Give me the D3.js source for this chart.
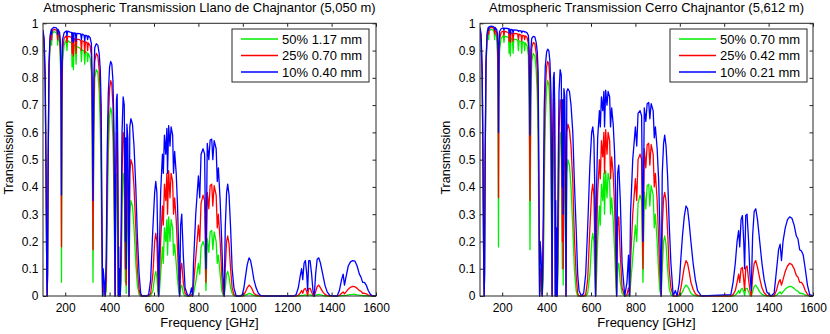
<!DOCTYPE html>
<html><head><meta charset="utf-8">
<script src="https://cdn.jsdelivr.net/npm/d3@7"></script>
<style>body{margin:0;background:#fff}svg text{font-family:"Liberation Sans",Arial,Helvetica,sans-serif;fill:#000}</style>
</head><body><svg id="c" width="830" height="334"></svg>
<script>
// Frequency grid [GHz]
const freq=[100,105,110,114,117,118.75,120.5,123,127,132,
137,139,141,150,160,164,166,168,175,179,
181.5,183.3,185,188,195,205,208,211,222,229,
231,234,237,240,246,249,252,265,270,273,
276,285,288,291,298,301,304,312,318,321.5,
325.2,329,333,340,347,353,358,362,365,368.5,
371,375,380.2,385,389,394,400,405,410,415,
420,424.8,427,431,434,437,439.2,441,443,445.5,
448,452,456,461,466,470.9,473,474.7,478,482,
485,487.5,491,496,503,510,518,525,533,540,
546,556.9,567,576,585,595,603,608,613,617,
620.7,624,630,638,642,647,653,658,661,666,
672,677,684,688,693,700,706,711,715.4,720,
725,732,740,752,762,769,773.8,778,788,800,
806,812,821,828,834.1,840,847,853,860,865,
871,880,885,890,898,905,910,916.2,921,927,
932,938,945,952,960,970.3,980,988,998,1005,
1012,1020,1028,1035,1042,1050,1060,1070,1080,1097,
1230,1240,1250,1258,1265,1270,1276,1282,1288,1292,
1297,1303,1310,1316,1322,1328,1335,1342,1350,1360,
1370,1380,1392,1411,1425,1435,1445,1452,1458,1465,
1475,1485,1495,1505,1515,1525,1532,1540,1548,1556,
1565,1575,1585,1600];

// Llano de Chajnantor (5,050 m)
const llanoG=[.95,.91,.75,.4,.08,0,.08,.45,.82,.93,
.955,.92,.962,.97,.965,.955,.92,.955,.93,.84,
.6,.05,.6,.86,.92,.94,.9,.937,.93,.928,
.84,.925,.83,.922,.918,.85,.915,.91,.905,.86,
.903,.898,.85,.896,.893,.86,.89,.875,.82,.6,
.05,.6,.8,.83,.82,.75,.62,.42,.15,0,
.02,0,0,.02,.25,.52,.66,.69,.67,.58,
.35,0,.2,.45,.45,.25,0,.03,0,.01,
0,.05,.32,.45,.42,.05,.3,.01,.35,.3,
.1,0,.3,.35,.33,.25,.12,.04,.005,0,
0,0,0,0,0,.02,.07,.09,.07,.02,
0,.01,.08,.18,.12,.25,.2,.28,.15,.29,
.2,.28,.25,.15,.19,.12,.06,.02,0,.03,
.04,.01,0,0,0,0,0,.01,.05,.12,
.08,.18,.2,.18,.02,.21,.16,.235,.24,.17,
.235,.2,.12,.15,.08,.02,.005,0,.03,.08,
.09,.07,.03,.01,0,0,0,0,0,0,
.003,.006,.01,.008,.005,.002,0,0,0,0,
0,0,0,.001,.002,.001,.003,.004,.002,0,
.004,.004,.002,0,0,.002,.005,.006,.004,.002,
0,0,0,0,0,0,.001,.002,.001,.002,
.004,.005,.006,.006,.004,.003,.002,.001,.001,.001,
0,0,0,0];
const llanoR=[.965,.93,.78,.42,.08,0,.08,.46,.84,.945,
.967,.94,.972,.978,.975,.968,.94,.968,.95,.88,
.7,.18,.7,.9,.945,.955,.93,.953,.95,.948,
.89,.947,.88,.945,.943,.89,.942,.94,.937,.9,
.936,.933,.89,.932,.93,.9,.928,.918,.88,.7,
.17,.7,.86,.89,.88,.83,.74,.57,.25,0,
.05,.02,0,.06,.38,.64,.76,.79,.775,.7,
.48,0,.3,.6,.6,.38,0,.08,0,.04,
0,.12,.45,.6,.56,.1,.45,.04,.5,.45,
.2,0,.45,.5,.48,.4,.25,.1,.02,0,
0,0,0,0,.01,.08,.2,.23,.2,.08,
0,.05,.2,.33,.26,.41,.35,.45,.3,.46,
.36,.45,.42,.3,.36,.28,.17,.07,0,.1,
.12,.05,.01,0,0,.005,0,.04,.14,.26,
.2,.34,.37,.35,.05,.38,.32,.405,.41,.33,
.405,.37,.25,.3,.2,.08,.02,0,.1,.2,
.22,.19,.1,.03,.005,0,0,0,0,.005,
.015,.03,.04,.035,.025,.01,.004,.001,0,0,
0,0,.003,.01,.02,.01,.025,.028,.015,.002,
.028,.028,.015,.003,0,.015,.035,.04,.03,.015,
.006,.002,0,0,0,.002,.01,.015,.008,.015,
.025,.032,.035,.034,.028,.02,.018,.01,.01,.008,
.003,.001,0,0];
const llanoB=[.975,.945,.8,.43,.08,0,.08,.47,.85,.955,
.977,.96,.981,.985,.983,.978,.96,.978,.965,.92,
.8,.37,.8,.94,.965,.972,.955,.971,.968,.967,
.935,.966,.93,.965,.964,.935,.963,.962,.96,.94,
.96,.957,.935,.956,.955,.94,.954,.948,.925,.8,
.35,.8,.91,.925,.92,.89,.83,.7,.35,0,
.1,.06,0,.15,.52,.74,.84,.86,.85,.79,
.6,0,.4,.72,.74,.52,0,.18,0,.1,
0,.25,.6,.73,.7,.2,.58,.1,.63,.58,
.3,0,.62,.65,.63,.55,.4,.22,.08,.01,
0,0,0,.005,.06,.25,.38,.42,.38,.2,
0,.15,.38,.52,.45,.59,.52,.615,.45,.625,
.55,.62,.59,.45,.53,.45,.33,.18,0,.26,
.3,.15,.03,0,.005,.03,0,.12,.3,.44,
.36,.52,.54,.52,.1,.56,.5,.572,.575,.5,
.57,.54,.42,.47,.35,.2,.08,0,.25,.38,
.41,.37,.25,.1,.03,0,0,0,.005,.03,
.07,.115,.14,.13,.1,.06,.03,.01,.002,0,
0,.005,.03,.07,.1,.06,.12,.13,.08,.02,
.13,.13,.08,.02,0,.08,.135,.14,.12,.08,
.04,.015,.002,0,0,.02,.06,.08,.04,.07,
.11,.125,.13,.128,.11,.08,.07,.05,.05,.04,
.02,.006,0,0];

// Cerro Chajnantor (5,612 m)
const cerroG=[.965,.93,.78,.42,.08,0,.08,.46,.84,.945,
.967,.94,.972,.978,.975,.968,.94,.968,.95,.88,
.7,.18,.7,.9,.945,.955,.93,.953,.95,.948,
.89,.947,.88,.945,.943,.89,.942,.94,.937,.9,
.936,.933,.89,.932,.93,.9,.928,.918,.88,.7,
.17,.7,.86,.89,.88,.83,.74,.57,.25,0,
.05,.02,0,.06,.38,.64,.76,.79,.775,.7,
.48,0,.3,.6,.6,.38,0,.08,0,.04,
0,.12,.45,.6,.56,.1,.45,.04,.5,.45,
.2,0,.45,.5,.48,.4,.25,.1,.02,0,
0,0,0,0,.01,.08,.2,.23,.2,.08,
0,.05,.2,.33,.26,.41,.35,.45,.3,.46,
.36,.45,.42,.3,.36,.28,.17,.07,0,.1,
.12,.05,.01,0,0,.005,0,.04,.14,.26,
.2,.34,.37,.35,.05,.38,.32,.405,.41,.33,
.405,.37,.25,.3,.2,.08,.02,0,.1,.2,
.22,.19,.1,.03,.005,0,0,0,0,.005,
.015,.03,.04,.035,.025,.01,.004,.001,0,0,
0,0,.003,.01,.02,.01,.025,.028,.015,.002,
.028,.028,.015,.003,0,.015,.035,.04,.03,.015,
.006,.002,0,0,0,.002,.01,.015,.008,.015,
.025,.032,.035,.034,.028,.02,.018,.01,.01,.008,
.003,.001,0,0];
const cerroR=[.975,.945,.8,.43,.08,0,.08,.47,.85,.955,
.977,.96,.981,.985,.983,.978,.96,.978,.965,.925,
.8,.36,.8,.94,.967,.972,.955,.971,.968,.967,
.935,.966,.93,.965,.964,.935,.963,.962,.96,.94,
.96,.957,.935,.956,.955,.94,.954,.948,.925,.8,
.35,.8,.91,.93,.925,.89,.83,.7,.35,0,
.1,.06,0,.15,.52,.75,.84,.86,.85,.79,
.6,0,.4,.72,.73,.52,0,.18,0,.1,
0,.25,.6,.72,.69,.2,.57,.1,.62,.58,
.3,0,.6,.63,.61,.55,.42,.22,.08,.01,
0,0,0,.005,.06,.25,.38,.41,.37,.2,
0,.15,.38,.5,.43,.57,.51,.6,.45,.61,
.52,.6,.57,.43,.51,.45,.33,.18,0,.26,
.29,.15,.03,0,.005,.03,0,.12,.3,.43,
.35,.5,.52,.5,.1,.54,.47,.555,.56,.48,
.555,.52,.4,.45,.35,.2,.08,0,.25,.36,
.38,.35,.24,.1,.03,0,0,0,.005,.03,
.065,.105,.13,.12,.09,.05,.025,.008,.002,0,
0,.005,.02,.05,.08,.05,.1,.105,.06,.02,
.105,.11,.06,.02,0,.07,.12,.13,.105,.065,
.03,.012,.002,0,0,.02,.05,.06,.04,.06,
.09,.11,.12,.115,.1,.075,.07,.05,.05,.04,
.02,.006,0,0];
const cerroB=[.985,.96,.82,.45,.09,0,.09,.48,.86,.965,
.985,.975,.987,.99,.988,.985,.975,.985,.978,.96,
.9,.6,.9,.97,.98,.983,.975,.982,.981,.98,
.965,.979,.96,.978,.977,.965,.976,.975,.974,.97,
.973,.972,.965,.971,.97,.968,.969,.965,.955,.9,
.59,.9,.945,.952,.95,.93,.895,.82,.5,0,
.2,.15,0,.3,.68,.84,.895,.905,.9,.86,
.74,0,.55,.8,.82,.68,0,.35,0,.25,
0,.45,.75,.83,.81,.4,.72,.3,.76,.73,
.45,0,.75,.76,.75,.7,.6,.42,.25,.08,
.02,0,.01,.08,.25,.48,.6,.62,.58,.4,
0,.35,.58,.68,.62,.73,.68,.75,.62,.755,
.7,.75,.73,.62,.69,.63,.53,.38,0,.45,
.48,.35,.12,0,.05,.15,0,.3,.5,.62,
.55,.67,.68,.66,.2,.69,.64,.705,.71,.65,
.705,.68,.58,.62,.54,.42,.25,0,.45,.56,
.59,.55,.44,.27,.12,0,.02,0,.05,.14,
.22,.29,.33,.32,.27,.2,.12,.06,.02,0,
.005,.05,.12,.2,.24,.18,.28,.295,.2,.1,
.295,.3,.2,.08,.02,.22,.31,.32,.28,.2,
.12,.06,.015,0,.01,.09,.17,.19,.13,.2,
.25,.28,.29,.285,.26,.22,.21,.17,.165,.15,
.1,.04,.005,0];

const xTicks=[200,400,600,800,1000,1200,1400,1600];
const yTicks=[0,0.1,0.2,0.3,0.4,0.5,0.6,0.7,0.8,0.9,1];
const llanoLegend=["50% 1.17 mm","25% 0.70 mm","10% 0.40 mm"];
const cerroLegend=["50% 0.70 mm","25% 0.42 mm","10% 0.21 mm"];
const titles=["Atmospheric Transmission Llano de Chajnantor (5,050 m)","Atmospheric Transmission Cerro Chajnantor (5,612 m)"];
const colors=["#00ee00","#ff0000","#0000ff"];

const panels=[
 {title:titles[0],series:[llanoG,llanoR,llanoB],legend:llanoLegend,x0:43,x1:376,ylabX:12.5,legX:232},
 {title:titles[1],series:[cerroG,cerroR,cerroB],legend:cerroLegend,x0:480,x1:813,ylabX:450,legX:670}
];
const Y0=296,Y1=23.3;
const svg=d3.select("#c");
const axisCol="#262626";

panels.forEach((p,pi)=>{
  const x=d3.scaleLinear().domain([100,1600]).range([p.x0,p.x1]);
  const y=d3.scaleLinear().domain([0,1]).range([Y0,Y1]);
  const g=svg.append("g");
  const cid="clip"+pi;
  svg.append("clipPath").attr("id",cid).append("rect")
    .attr("x",p.x0).attr("y",Y1-1).attr("width",p.x1-p.x0).attr("height",Y0-Y1+2);

  // curves
  const line=d3.line().x((d,i)=>x(freq[i])).y(d=>y(d));
  p.series.forEach((vals,si)=>{
    g.append("path").datum(vals).attr("d",line)
      .attr("clip-path",`url(#${cid})`)
      .attr("fill","none").attr("stroke",colors[si]).attr("stroke-width",1.3)
      .attr("stroke-linejoin","round");
  });

  // axes
  const fmt=d3.format("~g");
  const styleAxis=sel=>{
    sel.select(".domain").remove();
    sel.selectAll(".tick line").attr("stroke",axisCol);
    sel.selectAll("text").style("font-size","12px").attr("fill","#000");
  };
  g.append("g").attr("transform",`translate(0,${Y0})`)
    .call(d3.axisBottom(x).tickValues(xTicks).tickFormat(fmt).tickSizeInner(-3.5).tickSizeOuter(0).tickPadding(7))
    .call(styleAxis);
  g.append("g").attr("transform",`translate(0,${Y1})`)
    .call(d3.axisTop(x).tickValues(xTicks).tickFormat("").tickSizeInner(-3.5).tickSizeOuter(0))
    .call(styleAxis);
  g.append("g").attr("transform",`translate(${p.x0},0)`)
    .call(d3.axisLeft(y).tickValues(yTicks).tickFormat(fmt).tickSizeInner(-3.5).tickSizeOuter(0).tickPadding(4.5))
    .call(styleAxis);
  g.append("g").attr("transform",`translate(${p.x1},0)`)
    .call(d3.axisRight(y).tickValues(yTicks).tickFormat("").tickSizeInner(-3.5).tickSizeOuter(0))
    .call(styleAxis);
  g.selectAll(".tick text").attr("font-family",null);

  g.append("rect").attr("x",p.x0).attr("y",Y1).attr("width",p.x1-p.x0).attr("height",Y0-Y1)
    .attr("fill","none").attr("stroke",axisCol).attr("stroke-width",1);

  // title and labels
  g.append("text").attr("x",(p.x0+p.x1)/2).attr("y",12).attr("text-anchor","middle")
    .style("font-size","13px").text(p.title);
  g.append("text").attr("x",(p.x0+p.x1)/2).attr("y",326.5).attr("text-anchor","middle")
    .style("font-size","13px").text("Frequency [GHz]");
  g.append("text").attr("transform",`translate(${p.ylabX},${(Y0+Y1)/2-2}) rotate(-90)`)
    .attr("text-anchor","middle").style("font-size","12.5px").text("Transmission");

  // legend
  const lg=g.append("g");
  lg.append("rect").attr("x",p.legX).attr("y",29).attr("width",137).attr("height",53)
    .attr("fill","#fff").attr("stroke",axisCol).attr("stroke-width",1);
  p.legend.forEach((lab,i)=>{
    const yy=39+i*16.5;
    lg.append("line").attr("x1",p.legX+9).attr("x2",p.legX+46).attr("y1",yy).attr("y2",yy)
      .attr("stroke",colors[i]).attr("stroke-width",1.5);
    lg.append("text").attr("x",p.legX+50).attr("y",yy).attr("dy","0.36em")
      .style("font-size","13px").text(lab);
  });
});
</script></body></html>
